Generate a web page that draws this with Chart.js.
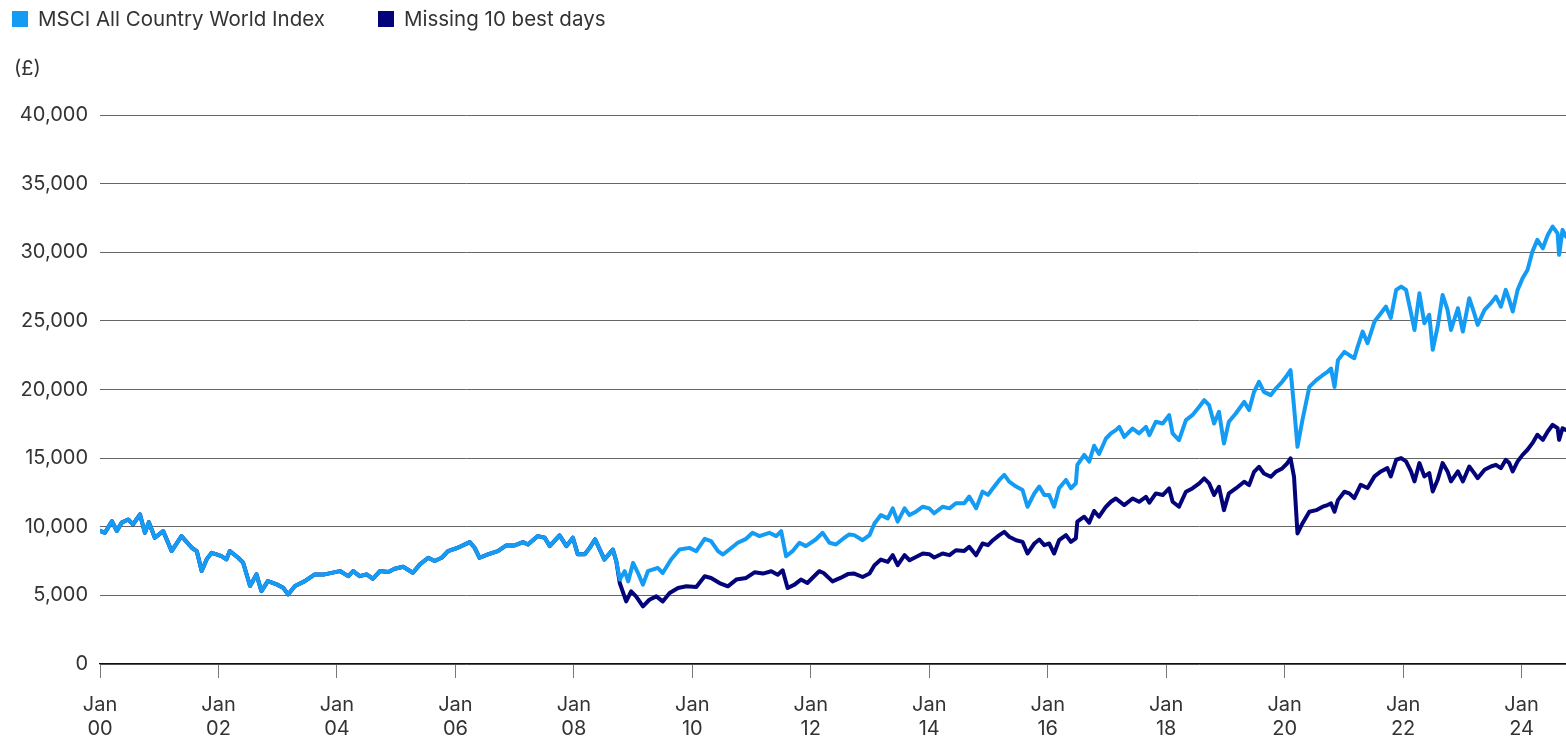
<!DOCTYPE html>
<html><head><meta charset="utf-8">
<script src="https://cdn.jsdelivr.net/npm/chart.js@4.4.1/dist/chart.umd.min.js"></script>
<style>
html,body{margin:0;padding:0;background:#fff;width:1566px;height:739px;overflow:hidden;font-family:Inter,'Noto Sans',sans-serif;}
#c{position:absolute;left:0;top:0;}
.item{position:absolute;top:7px;display:flex;align-items:center;font-size:20.5px;color:#333;line-height:24px;white-space:nowrap;}
.sw{width:16px;height:16px;margin-right:10px;}
#unit{position:absolute;left:14px;top:56px;font-size:20px;color:#333;line-height:24px;}
</style></head>
<body>
<canvas id="c" width="1566" height="739"></canvas>
<div class="item" style="left:12px"><span class="sw" style="background:#149cf4"></span><span id="l1"></span></div>
<div class="item" style="left:378px"><span class="sw" style="background:#04047a"></span><span id="l2"></span></div>
<div id="unit"></div>
<script>
// Series names
const seriesNames = ['MSCI All Country World Index', 'Missing 10 best days'];
const unitLabel = '(£)';
// x positions are months since Jan 2000
const xTickYears = ['00','02','04','06','08','10','12','14','16','18','20','22','24'];

const msciMonths = [0,1,2.4,3.4,4.4,5.7,6.7,8.1,9.1,9.9,11.1,12.8,14.5,16.5,18.6,19.6,20.6,21.6,22.6,23.6,24.6,25.6,26.3,28,29,30.4,31.7,32.7,34,35.8,37.1,38.1,39.5,41.5,43.5,45.5,48.6,50.3,51.3,52.6,54,55.3,56.7,58.4,59.7,61.4,63.4,64.8,66.5,67.8,69.2,70.5,72.5,74.9,75.9,76.9,78.6,80.6,82.3,84,85.7,86.7,88.7,90.1,91.1,93.1,94.5,95.8,96.8,98.2,99.2,100.3,102.2,103.9,104.6,105.3,106.3,107,108,109,110,111,113,114,115.7,117.4,119.4,120.8,122.5,123.8,125.2,126.2,127.5,129.2,130.9,132.2,133.6,135.6,137,138,139,140.3,141.7,143,145,146.4,147.8,149.1,150.8,151.8,152.8,154.5,155.9,156.9,158.2,159.6,160.6,161.6,163,164,165.3,166.7,168,169,170.7,172.1,173.4,175.1,176.1,177.5,178.8,179.9,180.9,182.2,183.2,184.2,185.6,186.9,187.9,189.3,190.3,191.3,192.3,193.3,194.3,195.7,196.7,197.7,198,199.4,200.4,201.4,202.4,203.8,204.8,205.8,206.5,207.5,209.2,210.5,211.9,212.6,213.9,215.3,216.6,217.3,218.6,220,221.3,222.7,223.7,224.7,225.7,226.7,227.7,228.7,230.1,231.8,232.8,233.8,234.8,235.8,237.2,238.2,239.5,240.5,241.2,241.9,242.6,243.6,245,246.4,247.7,248.7,249.4,250.1,250.8,252.1,253.1,254.1,254.8,255.8,256.8,258.2,259.5,260.5,261.5,262.6,263.6,264.6,265.6,266.3,267.3,268.3,269.3,270,271,272,273,273.7,275.1,276.1,277.4,278.4,279.1,280.5,281.8,282.8,283.8,284.8,285.5,286.2,287.2,288.2,289.2,290.2,291.2,292.3,293.3,294.3,295.3,295.6,296.3,297];
const msciValues = [9700,9560,10400,9700,10300,10530,10170,10900,9560,10340,9200,9680,8230,9320,8470,8230,6770,7620,8100,7990,7860,7620,8230,7740,7380,5680,6530,5310,6040,5800,5560,5070,5680,6040,6530,6530,6770,6400,6770,6400,6530,6210,6770,6700,6940,7090,6650,7260,7740,7500,7740,8230,8470,8880,8470,7740,7990,8230,8640,8640,8880,8710,9320,9200,8590,9370,8590,9200,7990,7990,8460,9080,7610,8340,7490,6150,6760,6020,7370,6630,5780,6760,7000,6630,7610,8340,8460,8220,9120,8950,8220,7980,8340,8830,9120,9560,9320,9560,9320,9680,7850,8220,8830,8590,9070,9560,8830,8710,9200,9440,9390,9020,9390,10240,10850,10610,11340,10370,11340,10850,11100,11460,11340,10980,11460,11340,11710,11710,12200,11340,12560,12320,12800,13410,13780,13290,12930,12680,11460,12440,12930,12320,12320,11460,12800,13410,12800,13170,14510,15240,14750,15900,15300,16430,16800,17040,17280,16550,17160,16800,17280,16670,17650,17520,18130,16800,16310,17770,18130,18740,19220,18860,17520,18370,16070,17650,18250,19100,18500,19830,20560,19830,19590,20070,20560,21040,21410,18740,15830,17770,20190,20680,21040,21290,21530,20190,22140,22740,22500,22280,23130,24220,23370,24950,25560,26040,25220,27260,27500,27260,25560,24340,27010,24830,25440,22890,24590,26890,25800,24340,25920,24220,26650,25560,24710,25800,26290,26770,26040,27260,26530,25680,27260,28110,28710,30050,30900,30290,31260,31870,31380,29810,31630,31140];

// Missing 10 best days: identical to the index until the divergence in Oct 2008
const splitMonth = 104.6;
const missMonths = [105.3,106.6,107.6,108.6,110,111.3,112.7,114,115.4,117.1,118.8,120.8,122.5,123.8,125.5,127.2,128.9,130.9,132.6,134.3,136,137.3,138.3,139.3,140.7,142,143.3,145.7,146.6,148.4,150,151.5,152.8,154.5,155.9,156.9,158.2,159.6,160.6,161.6,163,164,165.3,166.7,168,169,170.7,172.1,173.4,175.1,176.1,177.5,178.8,179.9,180.9,182.2,183.2,184.2,185.6,186.9,187.9,189.3,190.3,191.3,192.3,193.3,194.3,195.7,196.7,197.7,198,199.4,200.4,201.4,202.4,203.8,204.8,205.8,207.5,209.2,210.5,211.9,212.6,213.9,215.3,216.6,217.3,218.6,220,221.3,222.7,223.7,224.7,225.7,226.7,227.7,228.7,230.1,231.8,232.8,233.8,234.8,235.8,237.2,238.2,239.5,240.5,241.2,241.9,242.6,243.6,245,246.4,247.7,248.7,249.4,250.1,250.8,252.1,253.1,254.1,255.4,256.8,258.2,259.5,260.8,261.5,262.6,263.6,264.6,265.6,266.3,267.3,268.3,269.3,270,271,272,273,273.7,275.1,276.1,277.4,278.4,279.1,280.5,281.8,282.8,283.8,284.8,285.5,286.2,287.2,288.2,289.2,290.2,291.2,292.3,293.3,294.3,295.3,295.6,296.3,297];
const missValues = [5900,4560,5290,4930,4200,4680,4930,4560,5170,5540,5660,5610,6390,6270,5900,5660,6150,6270,6680,6590,6760,6510,6830,5540,5780,6150,5900,6760,6630,6020,6270,6550,6590,6340,6590,7200,7610,7440,7930,7200,7930,7560,7800,8050,8000,7760,8050,7930,8290,8240,8540,7930,8780,8660,9020,9390,9630,9270,9020,8900,8050,8780,9070,8660,8780,8050,9020,9390,8900,9150,10370,10730,10300,11150,10730,11460,11820,12060,11580,12060,11820,12180,11750,12430,12310,12790,11820,11460,12550,12790,13160,13520,13160,12310,12910,11210,12430,12790,13280,13030,14000,14370,13880,13640,14000,14250,14610,14980,13640,9510,10240,11090,11210,11460,11580,11700,11090,11940,12550,12430,12090,13060,12820,13670,14030,14270,13670,14880,15000,14760,14030,13300,14640,13670,13910,12570,13420,14640,14030,13300,14030,13300,14390,13910,13540,14150,14390,14510,14270,14880,14640,14030,14760,15240,15610,16090,16700,16330,16940,17430,17180,16330,17180,17060];

const colors = ['#149cf4', '#04047a'];
document.getElementById('l1').textContent = seriesNames[0];
document.getElementById('l2').textContent = seriesNames[1];
document.getElementById('unit').textContent = unitLabel;

const msciData = msciMonths.map((m, i) => ({x: m, y: msciValues[i]}));
const missData = msciData.filter(p => p.x <= splitMonth).concat(missMonths.map((m, i) => ({x: m, y: missValues[i]})));

const FONT = 'Inter';
new Chart(document.getElementById('c'), {
  type: 'line',
  data: {
    datasets: [
      {label: seriesNames[0], data: msciData, borderColor: colors[0], backgroundColor: colors[0], borderWidth: 4, pointRadius: 0, tension: 0, borderJoinStyle: 'round', borderCapStyle: 'round'},
      {label: seriesNames[1], data: missData, borderColor: colors[1], backgroundColor: colors[1], borderWidth: 4, pointRadius: 0, tension: 0, borderJoinStyle: 'round', borderCapStyle: 'round'}
    ]
  },
  options: {
    responsive: false,
    devicePixelRatio: 1,
    animation: false,
    layout: {padding: {top: 115, right: 0, left: 0, bottom: 0}},
    plugins: {legend: {display: false}, tooltip: {enabled: false}},
    scales: {
      x: {
        type: 'linear', min: 0, max: 297,
        afterFit: s => { s.height = 75; },
        border: {display: true, color: '#111', width: 1.2},
        grid: {drawOnChartArea: false, drawTicks: true, tickLength: 14, color: '#777', tickColor: '#777'},
        ticks: {
          stepSize: 24, includeBounds: false, autoSkip: false, maxRotation: 0,
          padding: 15, color: '#333', font: {family: FONT, size: 20, lineHeight: 1.2},
          callback: v => ['Jan', xTickYears[Math.round(v / 24)]]
        }
      },
      y: {
        min: 0, max: 40000,
        afterFit: s => { s.width = 100; },
        border: {display: false},
        grid: {color: '#666', lineWidth: 1, drawTicks: false},
        ticks: {stepSize: 5000, padding: 12, color: '#333', font: {family: FONT, size: 20},
          callback: v => v.toLocaleString('en-US')}
      }
    }
  }
});
</script>
</body></html>
